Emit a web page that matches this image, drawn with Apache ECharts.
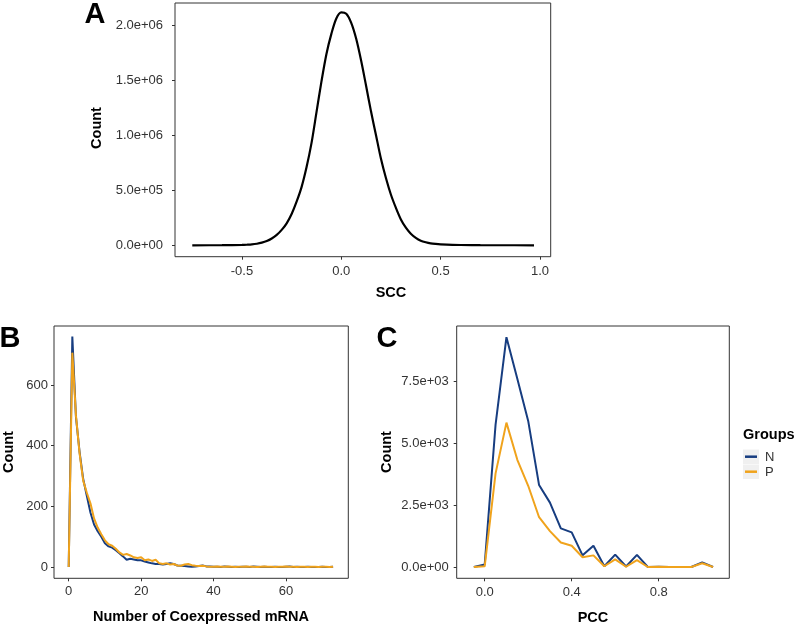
<!DOCTYPE html>
<html>
<head>
<meta charset="utf-8">
<script src="https://cdn.jsdelivr.net/npm/echarts@6.0.0/dist/echarts.min.js"></script>
<style>
  html, body { margin: 0; padding: 0; background: #fff; }
  #chart { width: 797px; height: 628px; }
</style>
</head>
<body>
<div id="chart"></div>
<script>
// ---------- Panel A: SCC distribution ----------
const sccX = [-0.75,-0.6,-0.5,-0.475,-0.45,-0.425,-0.4,-0.375,-0.35,-0.325,-0.3,-0.275,-0.25,-0.225,-0.2,-0.175,-0.15,-0.125,-0.1,-0.075,-0.05,-0.025,0,0.025,0.05,0.075,0.1,0.125,0.15,0.175,0.2,0.225,0.25,0.275,0.3,0.325,0.35,0.375,0.4,0.425,0.45,0.475,0.5,0.6,0.7,0.8,0.97];
const sccCount = [0,500,3000,5000,8000,14000,24000,39000,62000,94000,140000,200000,285000,397000,530000,710000,930000,1210000,1490000,1740000,1925000,2065000,2120000,2108000,2025000,1880000,1680000,1450000,1215000,1000000,785000,610000,460000,340000,235000,160000,105000,68000,42000,27000,17000,12000,9000,2500,700,200,0];
const aXTicks = [-0.5, 0, 0.5, 1.0];
const aXLabels = ['-0.5', '0.0', '0.5', '1.0'];
const aYTicks = [0, 500000, 1000000, 1500000, 2000000];
const aYLabels = ['0.0e+00', '5.0e+05', '1.0e+06', '1.5e+06', '2.0e+06'];

// ---------- Panel B: Number of coexpressed mRNA ----------
const mrnaX = [0,1,2,3,4,5,6,7,8,9,10,11,12,13,14,15,16,17,18,19,20,21,22,23,24,25,26,27,28,29,30,31,32,33,34,35,36,37,38,39,40,41,42,43,44,45,46,47,48,49,50,51,52,53,54,55,56,57,58,59,60,61,62,63,64,65,66,67,68,69,70,71,72,73];
const mrnaN = [0,760,495,380,290,235,180,140,118,100,78,68,64,55,45,35,24,27,25,22,22,18,15,12,10,10,8,10,12,10,5,4,3,2,1,2,3,5,2,2,1,1,0,2,1,0,1,0,1,1,0,2,1,0,1,0,0,1,0,0,1,2,0,1,0,0,1,0,0,0,1,0,0,1];
const mrnaP = [0,707,500,375,285,245,210,160,130,108,88,75,70,60,48,40,43,38,32,30,32,22,25,20,24,12,10,12,8,10,5,4,8,10,6,4,3,4,2,1,1,2,1,1,2,1,0,1,1,2,1,1,0,1,2,1,1,0,1,1,2,1,1,0,1,1,0,1,1,0,1,1,0,1];
const bXTicks = [0, 20, 40, 60];
const bXLabels = ['0', '20', '40', '60'];
const bYTicks = [0, 200, 400, 600];
const bYLabels = ['0', '200', '400', '600'];

// ---------- Panel C: PCC ----------
const pccX = [-0.05,0,0.05,0.1,0.15,0.2,0.25,0.3,0.35,0.4,0.45,0.5,0.55,0.6,0.65,0.7,0.75,0.8,0.85,0.9,0.95,1.0,1.05];
const pccN = [0,100,5750,9280,7600,5900,3310,2600,1560,1400,470,860,30,500,20,490,0,10,0,0,0,190,0];
const pccP = [0,30,3780,5830,4330,3280,2010,1450,990,856,395,470,30,310,10,280,0,10,0,0,0,150,0];
const cXTicks = [0, 0.4, 0.8];
const cXLabels = ['0.0', '0.4', '0.8'];
const cYTicks = [0, 2500, 5000, 7500];
const cYLabels = ['0.0e+00', '2.5e+03', '5.0e+03', '7.5e+03'];

const groups = ['N', 'P'];
const colorN = '#173d80';
const colorP = '#f0a31c';
const FONT = "'Liberation Sans', Arial, Helvetica, sans-serif";

function fmt(ticks, labels) {
  return function (v) {
    for (let i = 0; i < ticks.length; i++) {
      if (Math.abs(ticks[i] - v) <= 1e-6 * Math.max(1, Math.abs(ticks[i]))) return labels[i];
    }
    return '';
  };
}
function pairs(xs, ys) { return xs.map((x, i) => [x, ys[i]]); }

function makeAxis(gridIndex, min, max, ticks, labels, margin) {
  return {
    type: 'value', gridIndex: gridIndex, min: min, max: max,
    axisLine: { show: false, onZero: false },
    splitLine: { show: false },
    axisTick: { show: true, length: 3, inside: false, customValues: ticks, lineStyle: { color: '#333', width: 1 } },
    axisLabel: { show: true, customValues: ticks, formatter: fmt(ticks, labels), margin: margin,
                 color: '#333', fontSize: 13, fontFamily: FONT }
  };
}

const gridStyle = { show: true, borderColor: '#333', borderWidth: 1, backgroundColor: '#fff', outerBoundsMode: 'none', containLabel: false };

const option = {
  animation: false,
  backgroundColor: '#fff',
  grid: [
    Object.assign({ left: 175, top: 3, width: 375.7, height: 253.7 }, gridStyle),
    Object.assign({ left: 54, top: 326, width: 294.3, height: 252.3 }, gridStyle),
    Object.assign({ left: 456.7, top: 326, width: 272.6, height: 252.3 }, gridStyle)
  ],
  xAxis: [
    makeAxis(0, -0.837, 1.054, aXTicks, aXLabels, 8),
    makeAxis(1, -4.06, 77.2, bXTicks, bXLabels, 7),
    makeAxis(2, -0.1287, 1.1246, cXTicks, cXLabels, 8)
  ],
  yAxis: [
    makeAxis(0, -104000, 2206000, aYTicks, aYLabels, 12),
    makeAxis(1, -37.3, 795, bYTicks, bYLabels, 6),
    makeAxis(2, -456, 9733, cYTicks, cYLabels, 8)
  ],
  series: [
    { type: 'line', name: 'SCC', xAxisIndex: 0, yAxisIndex: 0, data: pairs(sccX, sccCount),
      smooth: 0.3, showSymbol: false, lineStyle: { color: '#000', width: 2.2 }, itemStyle: { color: '#000' } },
    { type: 'line', name: groups[0], xAxisIndex: 1, yAxisIndex: 1, data: pairs(mrnaX, mrnaN),
      showSymbol: false, lineStyle: { color: colorN, width: 2 }, itemStyle: { color: colorN } },
    { type: 'line', name: groups[1], xAxisIndex: 1, yAxisIndex: 1, data: pairs(mrnaX, mrnaP),
      showSymbol: false, lineStyle: { color: colorP, width: 2 }, itemStyle: { color: colorP } },
    { type: 'line', name: groups[0], xAxisIndex: 2, yAxisIndex: 2, data: pairs(pccX, pccN),
      showSymbol: false, lineStyle: { color: colorN, width: 2 }, itemStyle: { color: colorN } },
    { type: 'line', name: groups[1], xAxisIndex: 2, yAxisIndex: 2, data: pairs(pccX, pccP),
      showSymbol: false, lineStyle: { color: colorP, width: 2 }, itemStyle: { color: colorP } }
  ],
  graphic: [
    // panel letters
    { type: 'text', x: 95, y: 15, style: { text: 'A', font: "bold 29px " + FONT, fill: '#000', align: 'center', verticalAlign: 'middle' } },
    { type: 'text', x: 10, y: 339, style: { text: 'B', font: "bold 29px " + FONT, fill: '#000', align: 'center', verticalAlign: 'middle' } },
    { type: 'text', x: 387, y: 339, style: { text: 'C', font: "bold 29px " + FONT, fill: '#000', align: 'center', verticalAlign: 'middle' } },
    // axis titles
    { type: 'text', x: 97, y: 128, rotation: Math.PI / 2, style: { text: 'Count', font: "bold 14.5px " + FONT, fill: '#000', align: 'center', verticalAlign: 'middle' } },
    { type: 'text', x: 391, y: 293, style: { text: 'SCC', font: "bold 14.5px " + FONT, fill: '#000', align: 'center', verticalAlign: 'middle' } },
    { type: 'text', x: 9, y: 452, rotation: Math.PI / 2, style: { text: 'Count', font: "bold 14.5px " + FONT, fill: '#000', align: 'center', verticalAlign: 'middle' } },
    { type: 'text', x: 201, y: 617, style: { text: 'Number of Coexpressed mRNA', font: "bold 14.5px " + FONT, fill: '#000', align: 'center', verticalAlign: 'middle' } },
    { type: 'text', x: 387, y: 452, rotation: Math.PI / 2, style: { text: 'Count', font: "bold 14.5px " + FONT, fill: '#000', align: 'center', verticalAlign: 'middle' } },
    { type: 'text', x: 593, y: 618, style: { text: 'PCC', font: "bold 14.5px " + FONT, fill: '#000', align: 'center', verticalAlign: 'middle' } },
    // legend
    { type: 'text', x: 743, y: 435, style: { text: 'Groups', font: "bold 14.5px " + FONT, fill: '#000', align: 'left', verticalAlign: 'middle' } },
    { type: 'rect', shape: { x: 743, y: 449.5, width: 16, height: 14.5 }, style: { fill: '#f0f0f0' } },
    { type: 'rect', shape: { x: 743, y: 464.5, width: 16, height: 14.5 }, style: { fill: '#f0f0f0' } },
    { type: 'line', shape: { x1: 745, y1: 456.7, x2: 757, y2: 456.7 }, style: { stroke: colorN, lineWidth: 2.5 } },
    { type: 'line', shape: { x1: 745, y1: 471.7, x2: 757, y2: 471.7 }, style: { stroke: colorP, lineWidth: 2.5 } },
    { type: 'text', x: 765, y: 457, style: { text: groups[0], font: "13px " + FONT, fill: '#333', align: 'left', verticalAlign: 'middle' } },
    { type: 'text', x: 765, y: 472, style: { text: groups[1], font: "13px " + FONT, fill: '#333', align: 'left', verticalAlign: 'middle' } }
  ]
};

const chart = echarts.init(document.getElementById('chart'), null, { renderer: 'canvas' });
chart.setOption(option);
</script>
</body>
</html>
